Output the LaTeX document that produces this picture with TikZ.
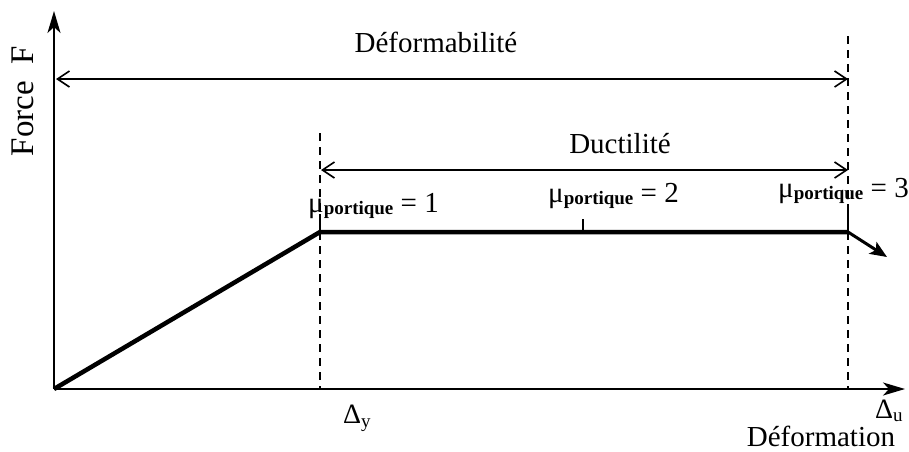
\documentclass[tikz,border=0pt]{standalone}
\usepackage{fontspec}
\setmainfont{Liberation Serif}
\usetikzlibrary{arrows.meta}
\newcommand{\musub}[1]{μ\raisebox{-2.5pt}{\fontsize{19}{20}\selectfont\bfseries portique} = #1}
\begin{document}
\begin{tikzpicture}[x=1pt,y=-1pt,
  axis/.style={line width=2pt,-{Stealth[length=22pt,width=13pt,inset=6pt]}},
  dimarrow/.style={line width=1.6pt,{Straight Barb[length=12pt,width=16pt]}-{Straight Barb[length=12pt,width=16pt]}},
  curve/.style={line width=4.5pt,line join=miter},
  endarrow/.style={line width=3pt,-{Stealth[length=17pt,width=14pt,inset=4pt]}},
  guide/.style={line width=1.8pt,dash pattern=on 8pt off 6pt},
  tickline/.style={line width=2pt},
  lbl/.style={font=\fontsize{29}{34}\selectfont,inner sep=0pt},
  mulbl/.style={font=\fontsize{29}{34}\selectfont,inner sep=0pt,anchor=base west},
  dlbl/.style={font=\fontsize{28}{30}\selectfont,inner sep=0pt,anchor=base west}
]
\useasboundingbox (0,0) rectangle (909,451);
% key points
\coordinate (O) at (54,389);
\coordinate (Ytop) at (54,11);
\coordinate (Xend) at (905,389);
\coordinate (Y) at (320,232);
\coordinate (U) at (848,232);
\coordinate (Uend) at (887,257);
\coordinate (M) at (583,232);
\coordinate (Mtop) at (583,219);
\coordinate (Yt) at (320,214);
\coordinate (Ut) at (848,212);
\coordinate (Yd) at (320,133);
\coordinate (Yb) at (320,389);
\coordinate (Ud) at (848,36);
\coordinate (Ub) at (848,389);
\coordinate (A1) at (56,79);
\coordinate (A2) at (848,79);
\coordinate (B1) at (321,170);
\coordinate (B2) at (848,170);
% guides
\draw[guide] (Yd) -- (Yt);
\draw[guide] (Y) -- (Yb);
\draw[guide] (Ud) -- (Ut);
\draw[guide] (U) -- (Ub);
\draw[tickline] (Yt) -- (Y);
\draw[tickline] (Ut) -- (U);
\draw[tickline] (Mtop) -- (M);
% axes
\draw[axis] (O) -- (Ytop);
\draw[axis] (O) -- (Xend);
% curve
\draw[curve] (O) -- (Y) -- (U);
\draw[endarrow] (U) -- (Uend);
% dimension arrows
\draw[dimarrow] (A1) -- (A2);
\draw[dimarrow] (B1) -- (B2);
% labels
\node[lbl,anchor=base] (tdef) at (436,52) {Déformabilité};
\node[lbl,anchor=base] (tduc) at (620,153) {Ductilité};
\node[font=\fontsize{33}{36}\selectfont,inner sep=0pt,anchor=base,rotate=90] (tforce) at (33,101) {Force\ \ F};
\node[mulbl] (mu1) at (308,212) {\musub{1}};
\node[mulbl] (mu2) at (548,202) {\musub{2}};
\node[mulbl] (mu3) at (778,197) {\musub{3}};
\node[dlbl] (dy) at (343,423) {Δ\raisebox{-4pt}{\fontsize{19}{20}\selectfont y}};
\node[dlbl] (du) at (875,418) {Δ\raisebox{-3pt}{\fontsize{19}{20}\selectfont u}};
\node[lbl,anchor=base] (tdefo) at (821,446) {Déformation};
\end{tikzpicture}
\end{document}
